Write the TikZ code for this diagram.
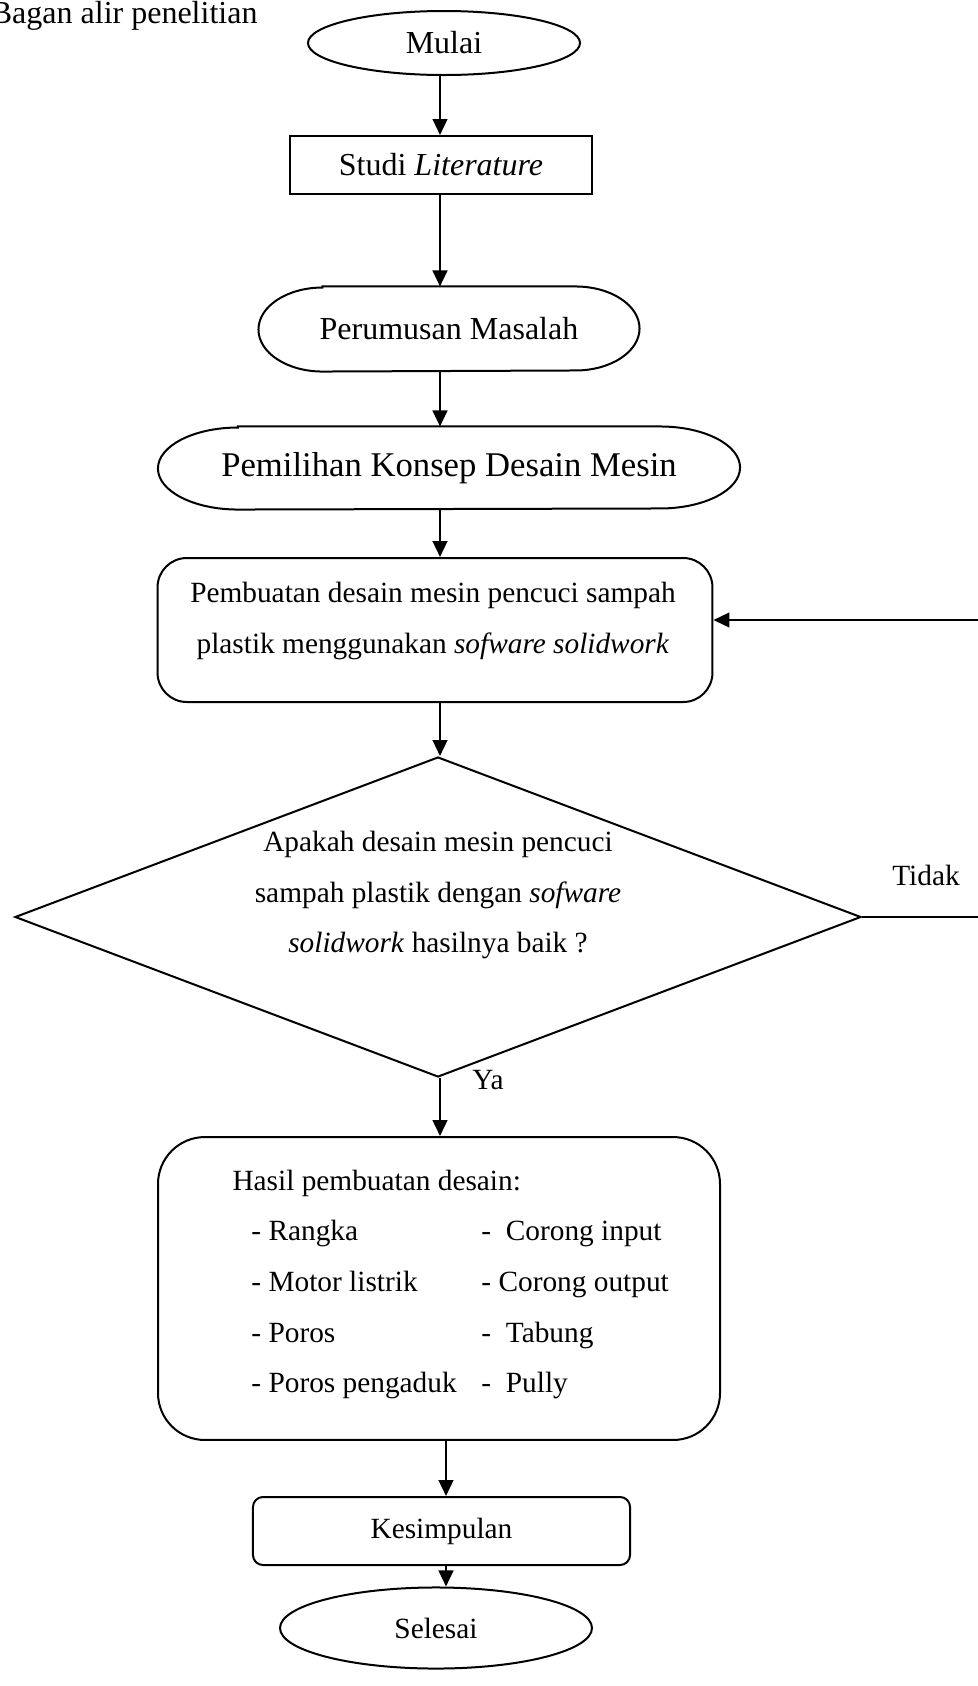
\documentclass[tikz,border=0pt]{standalone}
\usepackage{fontspec}
\setmainfont{Liberation Serif}
\usetikzlibrary{shapes.geometric,arrows.meta}
\newcommand\ukbesar{\fontsize{12}{19}\selectfont}
\newcommand\ukkecil{\fontsize{11}{19}\selectfont}
\tikzset{
  garis/.style={line width=0.75pt},
  panah/.style={line width=0.9pt,-{Triangle[length=6pt,width=5.5pt]}},
  oval/.style={ellipse,draw,garis,inner sep=0pt,font=\ukbesar},
  kotak/.style={rectangle,draw,garis,inner sep=0pt,font=\ukbesar},
  kapsul/.style={rectangle,inner sep=0pt,font=\ukbesar}
}
\begin{document}
\begin{tikzpicture}[x=0.375pt,y=-0.375pt]
      \useasboundingbox (0,0) rectangle (978,1686);
      \coordinate (poros) at (440,0);
      \coordinate (poros2) at (446,0);
      \node[anchor=base east,inner sep=0pt,font=\ukbesar] (judul) at (258,23) {Bagan alir penelitian};
      \node[oval,minimum width=102pt,minimum height=24pt] (mulai) at (444,43) {Mulai};
      \node[kotak,minimum width=113.25pt,minimum height=21.75pt] (studi) at (441,165) {Studi \textit{Literature}};
      \node[kapsul,minimum width=142.5pt,minimum height=31.5pt] (rumus) at (449,329) {Perumusan Masalah};
      \node[kapsul,minimum width=217.9pt,minimum height=30.75pt,font=\fontsize{13}{19}\selectfont] (konsep) at (449,468) {Pemilihan Konsep Desain Mesin};
      \foreach \n/\rx/\ry in {rumus/24pt/15.75pt,konsep/30pt/15.375pt}
        \draw[garis] ([xshift=\rx]\n.north west) -- ([xshift=-\rx]\n.north east)
          arc[start angle=90,end angle=-90,x radius=\rx,y radius=\ry]
          -- ([xshift=\rx]\n.south west)
          arc[start angle=270,end angle=90,x radius=\rx,y radius=\ry] -- cycle;
      \node[kotak,rounded corners=11pt,minimum width=208.1pt,minimum height=54pt] (buat) at (435,630) {};
      \node[font=\ukkecil,align=center] (buatteks) at (433,621)
        {Pembuatan desain mesin pencuci sampah\\plastik menggunakan \textit{sofware solidwork}};
      \node[diamond,draw,garis,inner sep=0pt,minimum width=317.25pt,minimum height=120pt] (cek) at (438,917) {};
      \node[font=\ukkecil,align=center] (cekteks) at (438,895)
        {Apakah desain mesin pencuci\\sampah plastik dengan \textit{sofware}\\\textit{solidwork} hasilnya baik ?};
      \node[font=\ukkecil] (tidak) at (926,875) {Tidak};
      \node[font=\ukkecil] (ya) at (488,1080) {Ya};
      \node[kotak,rounded corners=17.6pt,minimum width=210.75pt,minimum height=113.6pt] (hasil) at (439,1288.5) {};
      \node[anchor=base west,inner sep=0pt,font=\ukkecil] (hasilteks) at (232,1190) {%
        \begin{tabular}[t]{@{}l@{}}
          Hasil pembuatan desain:\\
          \hspace*{7.1pt}\makebox[86.25pt][l]{- Rangka}-\ \ Corong input\\
          \hspace*{7.1pt}\makebox[86.25pt][l]{- Motor listrik}- Corong output\\
          \hspace*{7.1pt}\makebox[86.25pt][l]{- Poros}-\ \ Tabung\\
          \hspace*{7.1pt}\makebox[86.25pt][l]{- Poros pengaduk}-\ \ Pully
        \end{tabular}};
      \node[kotak,rounded corners=3.75pt,minimum width=141.4pt,minimum height=25.5pt,font=\ukkecil] (simpul) at (441.5,1531) {Kesimpulan};
      \node[oval,minimum width=117pt,minimum height=30.4pt,font=\ukkecil] (selesai) at (436,1628) {Selesai};
      \foreach \a/\b in {mulai/studi,studi/rumus,rumus/konsep,konsep/buat,buat/cek,cek/hasil}
        \draw[panah] (\a.south -| poros) -- (\b.north -| poros);
      \foreach \a/\b in {hasil/simpul,simpul/selesai}
        \draw[panah] (\a.south -| poros2) -- (\b.north -| poros2);
      \draw[panah] (cek.east) -- ++(150,0) |- ([yshift=3.75pt]buat.east);
    \end{tikzpicture}
\end{document}
